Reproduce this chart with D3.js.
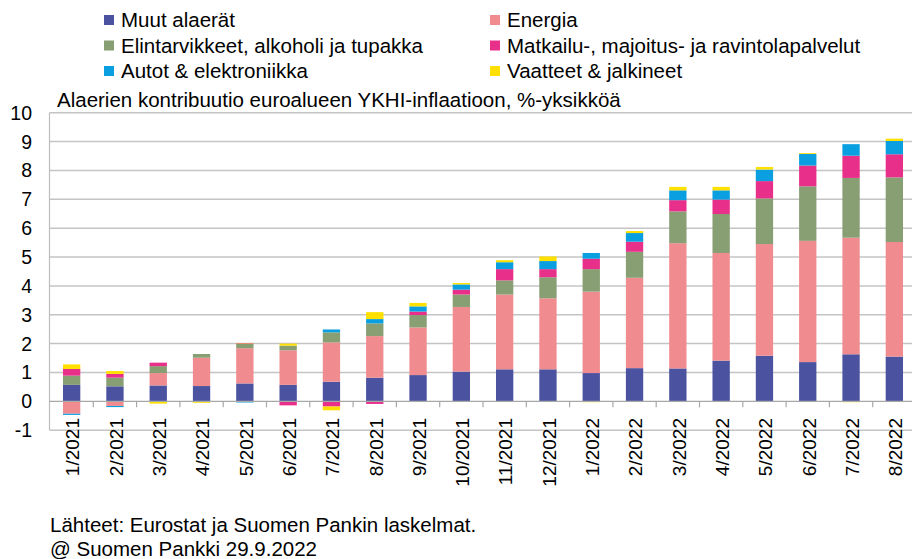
<!DOCTYPE html>
<html><head><meta charset="utf-8">
<script src="https://cdn.jsdelivr.net/npm/d3@7"></script>
<style>body{margin:0;background:#fff}svg{display:block}text{font-family:"Liberation Sans",Arial,sans-serif;fill:#000}</style>
</head><body>
<script>
const categories = ["1/2021","2/2021","3/2021","4/2021","5/2021","6/2021","7/2021","8/2021","9/2021","10/2021","11/2021","12/2021","1/2022","2/2022","3/2022","4/2022","5/2022","6/2022","7/2022","8/2022"];
const seriesNames = ["Muut alaerät","Energia","Elintarvikkeet, alkoholi ja tupakka","Matkailu-, majoitus- ja ravintolapalvelut","Autot & elektroniikka","Vaatteet & jalkineet"];
const muut      = [0.57,0.52,0.55,0.53,0.62,0.57,0.68,0.82,0.91,1.03,1.11,1.11,0.98,1.15,1.14,1.41,1.58,1.36,1.63,1.55];
const energia   = [-0.43,-0.16,0.43,0.98,1.22,1.20,1.36,1.44,1.65,2.24,2.59,2.46,2.82,3.13,4.34,3.73,3.87,4.20,4.04,3.97];
const elintarv  = [0.32,0.30,0.24,0.13,0.15,0.16,0.35,0.44,0.43,0.43,0.49,0.73,0.78,0.90,1.10,1.35,1.58,1.89,2.07,2.24];
const matkailu  = [0.23,0.13,0.12,0.00,0.02,-0.14,-0.18,-0.09,0.12,0.17,0.39,0.28,0.36,0.35,0.39,0.50,0.60,0.72,0.77,0.80];
const autot     = [-0.04,-0.04,0.00,0.00,-0.04,0.00,0.10,0.15,0.18,0.18,0.24,0.28,0.20,0.30,0.34,0.32,0.40,0.40,0.40,0.46];
const vaatteet  = [0.16,0.10,-0.08,-0.05,0.01,0.07,-0.13,0.24,0.12,0.05,0.07,0.16,-0.03,0.07,0.12,0.12,0.09,0.03,-0.03,0.08];
const colors = ["#4B53A0","#F08C90","#889E73","#E8308A","#0A9FE0","#FFE000"];
const yTicks = [-1,0,1,2,3,4,5,6,7,8,9,10];
const subtitle = "Alaerien kontribuutio euroalueen YKHI-inflaatioon, %-yksikköä";
const footer = ["Lähteet: Eurostat ja Suomen Pankin laskelmat.","@ Suomen Pankki 29.9.2022"];

const W = 912, H = 559;
const svg = d3.select("body").append("svg").attr("width", W).attr("height", H);

const allSeries = [muut, energia, elintarv, matkailu, autot, vaatteet];
const rows = categories.map((c, i) => {
  const r = {cat: c};
  seriesNames.forEach((s, j) => r[s] = allSeries[j][i]);
  return r;
});

const x = d3.scaleBand().domain(categories).range([50, 916]).paddingInner(0.6).paddingOuter(0.3);
const y = d3.scaleLinear().domain([-1, 10]).range([430.2, 112.7]);

// gridlines
svg.append("g").selectAll("line").data(yTicks.filter(d => d !== 0)).join("line")
  .attr("x1", 49.5).attr("x2", W).attr("y1", d => y(d)).attr("y2", d => y(d))
  .attr("stroke", "#C4C4C4").attr("stroke-width", 1.5);

// left axis line
svg.append("line").attr("x1", 49.5).attr("x2", 49.5).attr("y1", y(10)).attr("y2", y(-1))
  .attr("stroke", "#BDBDBD").attr("stroke-width", 1.2);

// y tick labels
svg.append("g").selectAll("text").data(yTicks).join("text")
  .attr("x", 32).attr("y", d => y(d)).attr("dy", "0.36em").attr("text-anchor", "end")
  .style("font-size", "19.5px").text(d => d);

// bars
const stack = d3.stack().keys(seriesNames).offset(d3.stackOffsetDiverging);
const stacked = stack(rows);
svg.append("g").selectAll("g").data(stacked).join("g")
  .attr("fill", (d, i) => colors[i])
  .selectAll("rect").data(d => d).join("rect")
  .attr("x", d => x(d.data.cat)).attr("width", x.bandwidth())
  .attr("y", d => y(Math.max(d[0], d[1])))
  .attr("height", d => Math.abs(y(d[0]) - y(d[1])));

// zero axis with ticks between categories
svg.append("line").attr("x1", 49.5).attr("x2", W).attr("y1", y(0)).attr("y2", y(0))
  .attr("stroke", "#A8A8A8").attr("stroke-width", 1.2);
svg.append("g").selectAll("line").data(d3.range(1, categories.length)).join("line")
  .attr("x1", k => 50 + k * x.step()).attr("x2", k => 50 + k * x.step())
  .attr("y1", y(0)).attr("y2", y(0) + 6)
  .attr("stroke", "#A8A8A8").attr("stroke-width", 1.2);

// x labels rotated
svg.append("g").selectAll("text").data(categories).join("text")
  .attr("transform", d => `translate(${x(d) + x.bandwidth() / 2 + 1},418) rotate(-90)`)
  .attr("text-anchor", "end").attr("dy", "0.36em")
  .style("font-size", "19px").text(d => d);

// legend
const legend = svg.append("g");
seriesNames.forEach((s, i) => {
  const col = i % 2, row = Math.floor(i / 2);
  const lx = col === 0 ? 104 : 490;
  const ly = 20 + row * 25.5;
  legend.append("rect").attr("x", lx).attr("y", ly - 5).attr("width", 10).attr("height", 10).attr("fill", colors[i]);
  legend.append("text").attr("x", lx + 17).attr("y", ly).attr("dy", "0.36em").style("font-size", "20.5px").text(s);
});

// subtitle
svg.append("text").attr("x", 57).attr("y", 100).attr("dy", "0.36em").style("font-size", "20.5px").text(subtitle);

// footer
footer.forEach((t, i) => {
  svg.append("text").attr("x", 50).attr("y", 525 + i * 24).attr("dy", "0.36em").style("font-size", "20.5px").text(t);
});
</script>
</body></html>
